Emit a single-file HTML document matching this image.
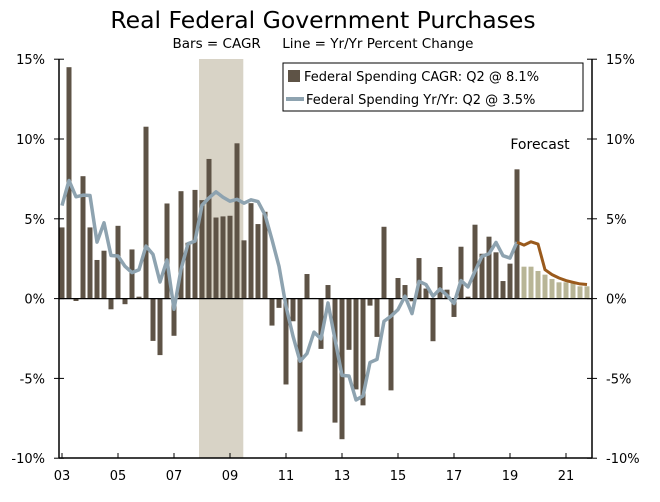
<!DOCTYPE html>
<html><head><meta charset="utf-8"><style>
body{margin:0;background:#fff;}
svg text{font-family:"DejaVu Sans","Liberation Sans",sans-serif;}
</style></head><body>
<svg id="chart" width="660" height="497" viewBox="0 0 660 497" xmlns="http://www.w3.org/2000/svg">
<text x="323" y="28" font-size="23.5" text-anchor="middle" fill="#000">Real Federal Government Purchases</text>
<text x="323" y="48" font-size="13.5" text-anchor="middle" fill="#000">Bars = CAGR &#160;&#160;&#160;&#160;Line = Yr/Yr Percent Change</text>
<g id="plot"></g>
<text x="540" y="149" font-size="14" text-anchor="middle" fill="#000">Forecast</text>
<g>
<rect x="283" y="63" width="300" height="48" fill="#fff" stroke="#000" stroke-width="1"/>
<rect x="288" y="70" width="12" height="12" fill="#5e5346"/>
<text x="304" y="81" font-size="13">Federal Spending CAGR: Q2 @ 8.1%</text>
<line x1="286" y1="99" x2="304" y2="99" stroke="#8ea3b0" stroke-width="4"/>
<text x="306" y="104" font-size="13">Federal Spending Yr/Yr: Q2 @ 3.5%</text>
</g>
</svg>
<script>
const cagr = [4.46,14.5,-0.15,7.67,4.46,2.42,3.0,-0.67,4.56,-0.35,3.08,0.12,10.77,-2.65,-3.54,5.96,-2.33,6.73,3.5,6.81,6.17,8.75,5.08,5.15,5.19,9.73,
3.65,5.98,4.67,5.44,-1.69,-0.58,-5.38,-1.42,-8.33,1.54,0.04,-3.15,0.85,-7.77,-8.81,-3.21,-5.69,-6.69,-0.44,-2.40,4.5,-5.75,1.29,0.85,-0.17,2.54,
0.63,-2.67,1.98,0.56,-1.15,3.25,0.12,4.63,2.81,3.88,2.9,1.1,2.19,8.1];
const cagrForecast = [2.0,2.0,1.73,1.5,1.23,1.02,1.02,0.98,0.77,0.77];
const yoy = [5.83,7.4,6.38,6.48,6.46,3.54,4.75,2.7,2.67,2.02,1.63,1.81,3.29,2.77,1.04,2.42,-0.67,1.83,3.44,3.6,5.85,6.31,6.69,6.35,6.1,6.22,
5.98,6.19,6.08,5.25,3.69,2.02,-0.48,-2.35,-3.92,-3.44,-2.1,-2.52,-0.27,-2.56,-4.81,-4.85,-6.35,-6.1,-4.0,-3.81,-1.42,-1.1,-0.69,0.15,-0.94,1.08,
0.88,0.15,0.6,0.21,-0.31,1.13,0.73,1.71,2.65,2.81,3.52,2.69,2.54,3.54];
const yoyForecast = [3.35,3.56,3.42,1.81,1.5,1.29,1.13,1.02,0.92,0.88];
const yTicks = [15,10,5,0,-5,-10];
const xLabels = ["03","05","07","09","11","13","15","17","19","21"];
const recession = [20,25.9];

const NS="http://www.w3.org/2000/svg";
const g=document.getElementById('plot');
const L=59,R=592,T=59,B=458;
const y=v=>298.6-v*15.96;
const x=i=>62+7*i;
function mk(t,a){const e=document.createElementNS(NS,t);for(const k in a)e.setAttribute(k,a[k]);g.appendChild(e);return e;}
let e=mk('rect',{x:x(recession[0])-3,y:T,width:x(recession[1])-x(recession[0])+3,height:B-T,fill:'#d8d3c6'});


cagr.forEach((v,i)=>{const r=mk('rect',{x:x(i)-2.5,y:Math.min(y(v),y(0)),width:5,height:Math.abs(y(v)-y(0)),fill:'#5e5346'});

});
cagrForecast.forEach((v,j)=>{const i=cagr.length+j;const r=mk('rect',{x:x(i)-2.5,y:Math.min(y(v),y(0)),width:5,height:Math.abs(y(v)-y(0)),fill:'#b8b596'});

});
e=mk('line',{x1:L,y1:y(0),x2:R,y2:y(0),stroke:'#000','stroke-width':1.2});


e=mk('polyline',{points:yoy.map((v,i)=>x(i)+','+y(v)).join(' '),fill:'none',stroke:'#8ea3b0','stroke-width':3.5,'stroke-linejoin':'round'});


const fpts=[x(yoy.length-1)+','+y(yoy[yoy.length-1])].concat(yoyForecast.map((v,j)=>x(yoy.length+j)+','+y(v)));
e=mk('polyline',{points:fpts.join(' '),fill:'none',stroke:'#9a5a1c','stroke-width':3,'stroke-linejoin':'round'});


e=mk('line',{x1:L,y1:T,x2:L,y2:B,stroke:'#000','stroke-width':1.5});


e=mk('line',{x1:R,y1:T,x2:R,y2:B,stroke:'#000','stroke-width':1.5});


e=mk('line',{x1:L,y1:B,x2:R,y2:B,stroke:'#000','stroke-width':1.5});


yTicks.forEach(v=>{
 mk('line',{x1:L-5,y1:y(v),x2:L+5,y2:y(v),stroke:'#000'});
 mk('line',{x1:R-5,y1:y(v),x2:R+5,y2:y(v),stroke:'#000'});
 let t=mk('text',{x:L-14,y:y(v)+5,'font-size':13,'text-anchor':'end'});t.textContent=v+'%';
 
 
 t=mk('text',{x:R+14,y:y(v)+5,'font-size':13,'text-anchor':'start'});t.textContent=v+'%';
 
 
});
xLabels.forEach((s,k)=>{const i=k*8;
 mk('line',{x1:x(i),y1:B,x2:x(i),y2:B-5,stroke:'#000'});
 const t=mk('text',{x:x(i),y:B+22,'font-size':13,'text-anchor':'middle'});t.textContent=s;
 
 
});
</script>
</body></html>
